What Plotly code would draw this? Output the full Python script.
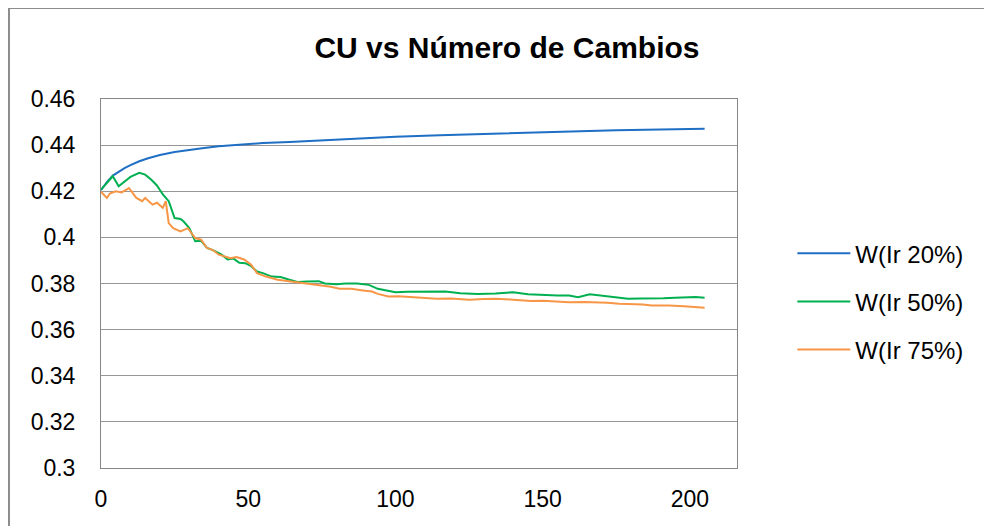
import plotly.graph_objects as go

TITLE = "CU vs Número de Cambios"
FONT = "Liberation Sans, Arial, sans-serif"

# W(Ir 20%)
x_20 = [0, 2, 4, 6, 8, 10, 13, 16, 20, 25, 30, 35, 40, 47, 55, 64, 75, 85, 100,
        115, 135, 146, 160, 175, 190, 205]
y_20 = [.4205, .4240, .4268, .4285, .4300, .4313, .4330, .4343, .4357, .4370, .4380,
        .4388, .4395, .4403, .4409, .4414, .4421, .4428, .4436, .4443, .4451, .4456,
        .4461, .4465, .4468, .4471]

# W(Ir 50%)
x_50 = [0, 2, 4, 6, 8, 10, 13, 15, 17, 19, 21, 23, 25, 27, 28, 30, 32, 34, 36, 38,
        41, 43, 45, 47, 49, 51, 53, 55, 58, 61, 64, 67, 70, 74, 76, 80, 83, 87, 91,
        94, 97, 100, 104, 108, 112, 117, 122, 128, 134, 140, 145, 150, 155, 159, 162,
        166, 170, 175, 179, 183, 187, 191, 195, 199, 202, 205]
y_50 = [.4207, .4236, .4265, .4222, .4240, .4262, .4280, .4272, .4251, .4225, .4186,
        .4157, .4084, .4080, .4070, .4040, .3983, .3985, .3954, .3945, .3925, .3904,
        .3908, .3890, .3888, .3875, .3852, .3845, .3830, .3828, .3816, .3806, .3809,
        .3810, .3800, .3797, .3800, .3800, .3794, .3777, .3770, .3762, .3764, .3765,
        .3766, .3765, .3758, .3755, .3757, .3762, .3753, .3750, .3748, .3748, .3741,
        .3753, .3748, .3741, .3734, .3735, .3734, .3736, .3738, .3740, .3741, .3738]

# W(Ir 75%)
x_75 = [0, 2, 3, 5, 7, 9.5, 12, 14, 15, 17.5, 19, 21, 22, 23, 24.5, 27, 29.5, 32, 34,
        36, 38, 40, 44, 46, 48.6, 51, 53, 56, 60, 64, 67, 70, 74, 78, 81, 85, 89, 92,
        94, 97.6, 101, 105, 109, 114, 119, 125, 130, 134, 140, 146, 150, 155, 159, 164,
        168, 172, 176, 180, 184, 187, 193, 198, 202, 205]
y_75 = [.4198, .4171, .4190, .4200, .4195, .4214, .4171, .4157, .4171, .4142, .4150,
        .4128, .4157, .4062, .4040, .4026, .4040, .3997, .3990, .3954, .3945, .3925,
        .3910, .3915, .3904, .3881, .3845, .3830, .3816, .3809, .3806, .3800, .3791,
        .3786, .3777, .3777, .3770, .3765, .3755, .3744, .3745, .3741, .3740, .3734,
        .3735, .3730, .3733, .3734, .3730, .3724, .3725, .3722, .3719, .3720, .3719,
        .3716, .3712, .3711, .3709, .3705, .3705, .3701, .3699, .3695]

x_ticks = [0, 50, 100, 150, 200]
y_ticks = [0.3, 0.32, 0.34, 0.36, 0.38, 0.4, 0.42, 0.44, 0.46]

series = [
    ("W(Ir 20%)", x_20, y_20, "#1F6FC5"),
    ("W(Ir 50%)", x_50, y_50, "#00B050"),
    ("W(Ir 75%)", x_75, y_75, "#F79646"),
]

fig = go.Figure()
for i, (name, xs, ys, col) in enumerate(series):
    fig.add_trace(go.Scatter(x=xs, y=ys, name=name, mode="lines",
                             legendgroup=str(i),
                             line=dict(color=col, width=2)))

fig.update_layout(
    width=992, height=526,
    plot_bgcolor="white", paper_bgcolor="white",
    font=dict(family=FONT, size=23, color="#000000"),
    title=dict(text=TITLE, x=0.503, xanchor="center", y=0.924, yanchor="middle",
               font=dict(size=30, family=FONT, weight="bold")),
    margin=dict(l=93, r=263, t=91, b=66),
    showlegend=True,
    legend=dict(x=1.087, xanchor="left", y=0.451, yanchor="middle",
                font=dict(size=24), traceorder="grouped", tracegroupgap=14,
                itemwidth=53, bgcolor="rgba(0,0,0,0)"),
)
fig.update_xaxes(range=[0, 216], tickvals=x_ticks, showgrid=False,
                 showline=True, linecolor="#868686", linewidth=1, mirror=True,
                 ticks="", ticklabelstandoff=10, zeroline=False)
fig.update_yaxes(range=[0.3, 0.46], tickvals=y_ticks, ticktext=[f"{v:g}" for v in y_ticks],
                 showgrid=True, gridcolor="#969696", gridwidth=1.3,
                 showline=True, linecolor="#868686", linewidth=1, mirror=True,
                 ticks="", ticklabelstandoff=20, zeroline=False)

# outer chart-area border (left and top edges visible)
fig.add_shape(type="line", xref="paper", yref="paper",
              x0=-0.1447, x1=-0.1447, y0=-0.25, y1=1.2466,
              line=dict(color="#8C8C8C", width=2))
fig.add_shape(type="line", xref="paper", yref="paper",
              x0=-0.1447, x1=1.45, y0=1.2466, y1=1.2466,
              line=dict(color="#8C8C8C", width=2))

fig.write_html("out.html")
